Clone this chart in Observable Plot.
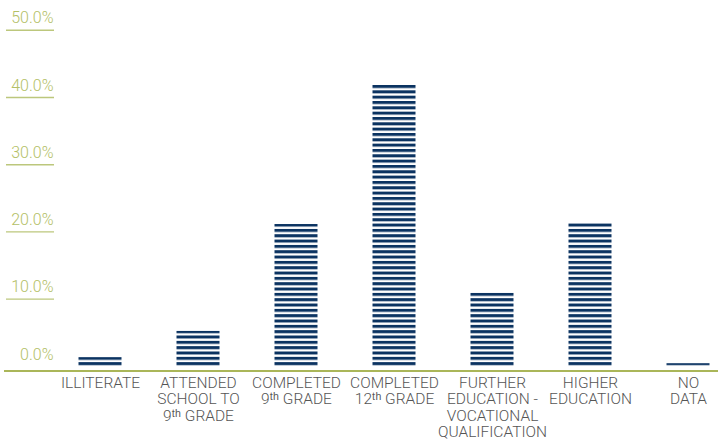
<!DOCTYPE html>
<html><head><meta charset="utf-8">
<script src="https://cdn.jsdelivr.net/npm/d3@7"></script>
<script src="https://cdn.jsdelivr.net/npm/@observablehq/plot@0.6"></script>
<style>body{margin:0;background:#fff;}</style>
</head><body><div id="chart"></div>
<script>
const categories = ["ILLITERATE", "ATTENDED SCHOOL TO 9th GRADE", "COMPLETED 9th GRADE", "COMPLETED 12th GRADE", "FURTHER EDUCATION - VOCATIONAL QUALIFICATION", "HIGHER EDUCATION", "NO DATA"];
const tickLabels = ["ILLITERATE", "ATTENDED\nSCHOOL TO\n9ᵗʰ GRADE", "COMPLETED\n9ᵗʰ GRADE", "COMPLETED\n12ᵗʰ GRADE", "FURTHER\nEDUCATION -\nVOCATIONAL\nQUALIFICATION", "HIGHER\nEDUCATION", "NO\nDATA"];
const values = [1.3, 5.2, 21.1, 41.8, 10.9, 21.4, 0.4];
const yLabelTicks = [0, 10, 20, 30, 40, 50];
const yGridTicks = [10, 20, 30, 40, 50];

const data = categories.map((c, i) => ({category: c, value: values[i]}));
const labelOf = new Map(categories.map((c, i) => [c, tickLabels[i]]));

const navy = "#0b3361";
const font = "Roboto, 'Liberation Sans', sans-serif";

const chart = Plot.plot({
  width: 719, height: 440,
  marginLeft: 54, marginRight: 0, marginTop: 29.7, marginBottom: 74.1,
  style: {fontFamily: font, background: "#fff"},
  x: {domain: categories, range: [51, 737], padding: 0, axis: null},
  y: {domain: [0, 50], axis: null},
  marks: [
    Plot.barY(data, {x: "category", y: "value", fill: "url(#stripes)", insetLeft: 27.5, insetRight: 27.5}),
    Plot.ruleY([0], {dy: 4.6, stroke: "#8e9e22", strokeWidth: 1.6, insetLeft: -50, insetRight: 1}),
    Plot.axisY({ticks: yGridTicks, tickSize: 48, stroke: "#bcc77c", strokeWidth: 1.4, strokeOpacity: 1, tickFormat: () => "", label: null}),
    Plot.axisY({ticks: yLabelTicks, tickSize: 0, tickPadding: 1, dy: -12, fontSize: 16, fontWeight: 300, fill: "#b3c066", tickFormat: d => d.toFixed(1) + "%", label: null}),
    Plot.axisX({tickSize: 0, tickPadding: 10, fontSize: 15.5, fontWeight: 300, lineHeight: 1.06, fill: "#555", tickFormat: d => labelOf.get(d), label: null})
  ]
});

const svg = d3.select(chart);
const defs = svg.insert("defs", ":first-child");
const pat = defs.append("pattern").attr("id", "stripes").attr("patternUnits", "userSpaceOnUse")
  .attr("x", 0).attr("y", 5.05).attr("width", 20).attr("height", 5.33);
pat.append("rect").attr("width", 20).attr("height", 5.33).attr("fill", "#fff");
pat.append("rect").attr("width", 20).attr("height", 3).attr("fill", navy);

document.getElementById("chart").appendChild(chart);
</script>
</body></html>
